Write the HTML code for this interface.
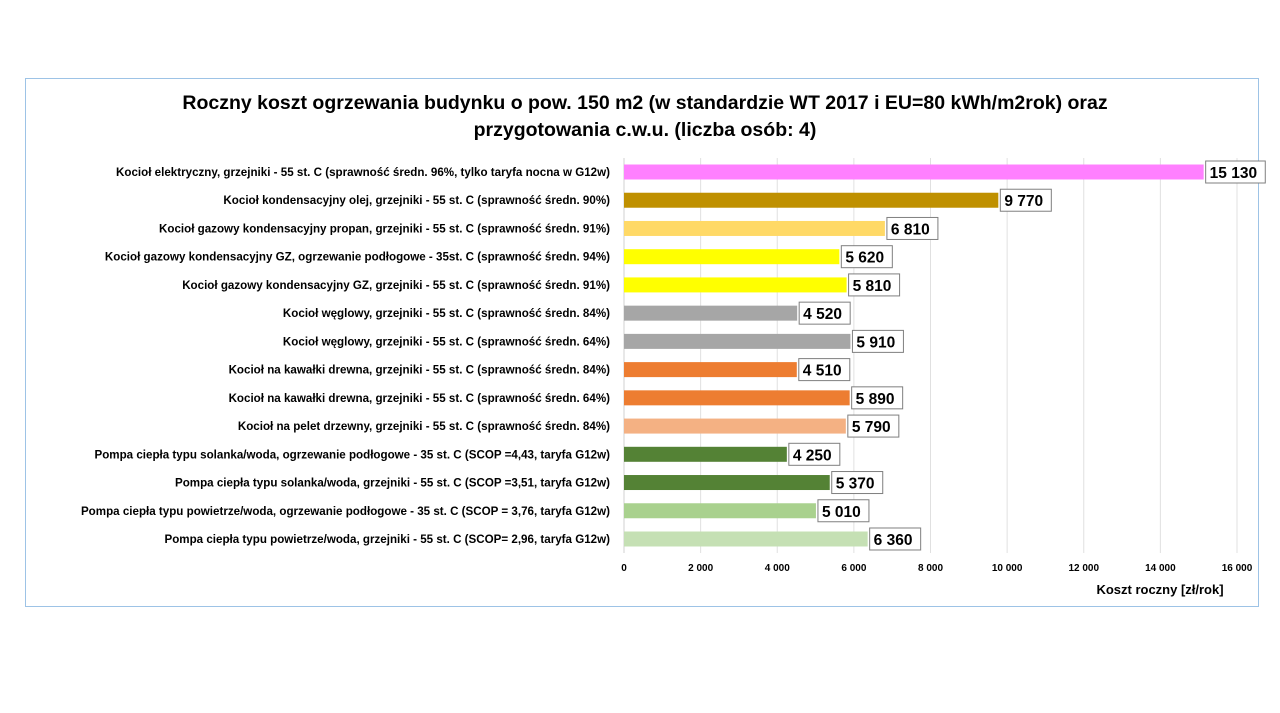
<!DOCTYPE html>
<html><head><meta charset="utf-8"><style>
body{margin:0;background:#fff;font-family:"Liberation Sans",sans-serif;}
svg{display:block}
</style></head><body>
<svg id="chart" width="1280" height="713" xmlns="http://www.w3.org/2000/svg">
<rect x="25.5" y="78.5" width="1233" height="528" fill="#fff" stroke="#9dc3e6" stroke-width="1"/>
<text x="645" y="109" text-anchor="middle" font-size="19.5" font-weight="bold" fill="#000">Roczny koszt ogrzewania budynku  o pow. 150 m2 (w standardzie WT 2017 i EU=80 kWh/m2rok) oraz</text>
<text x="645" y="136" text-anchor="middle" font-size="19.5" font-weight="bold" fill="#000">przygotowania c.w.u. (liczba osób: 4)</text>
<g id="grid"></g><g id="bars"></g><g id="xt"></g>
<text x="1160" y="594" text-anchor="middle" font-size="13" font-weight="bold">Koszt roczny [zł/rok]</text>
</svg>
<script>
const categories=["Kocioł  elektryczny,  grzejniki - 55 st. C  (sprawność średn. 96%, tylko taryfa nocna w G12w)","Kocioł  kondensacyjny olej,  grzejniki - 55 st. C  (sprawność średn. 90%)","Kocioł gazowy kondensacyjny propan, grzejniki - 55 st. C  (sprawność średn. 91%)","Kocioł gazowy kondensacyjny GZ, ogrzewanie podłogowe - 35st. C  (sprawność średn. 94%)","Kocioł gazowy kondensacyjny GZ, grzejniki - 55 st. C  (sprawność średn. 91%)","Kocioł węglowy,  grzejniki - 55 st. C  (sprawność średn. 84%)","Kocioł węglowy,  grzejniki - 55 st. C  (sprawność średn. 64%)","Kocioł na kawałki drewna, grzejniki - 55 st. C (sprawność średn. 84%)","Kocioł na kawałki drewna, grzejniki - 55 st. C  (sprawność średn. 64%)","Kocioł na pelet drzewny, grzejniki - 55 st. C (sprawność średn. 84%)","Pompa ciepła typu solanka/woda, ogrzewanie podłogowe - 35 st. C  (SCOP =4,43, taryfa G12w)","Pompa ciepła typu solanka/woda, grzejniki - 55 st. C (SCOP =3,51, taryfa G12w)","Pompa ciepła typu powietrze/woda, ogrzewanie podłogowe - 35 st. C (SCOP = 3,76, taryfa G12w)","Pompa ciepła typu powietrze/woda, grzejniki - 55 st. C (SCOP= 2,96, taryfa G12w)"];
const values=[15130,9770,6810,5620,5810,4520,5910,4510,5890,5790,4250,5370,5010,6360];
const colors=["#ff80ff","#bf9000","#ffd966","#ffff00","#ffff00","#a6a6a6","#a6a6a6","#ed7d31","#ed7d31","#f4b183","#548235","#548235","#a9d18e","#c5e0b4"];
const ticks=[0,2000,4000,6000,8000,10000,12000,14000,16000];
const ns="http://www.w3.org/2000/svg";
const x0=624,x1=1237,maxV=16000,y0=172,dy=28.23,bh=15;
const xs=v=>x0+(x1-x0)*v/maxV, ys=i=>y0+i*dy;
const fmt=v=>String(v).replace(/\B(?=(\d{3})+(?!\d))/g," ");
function mk(t,a,p){const e=document.createElementNS(ns,t);for(const k in a)e.setAttribute(k,a[k]);p.appendChild(e);return e;}
const grid=document.getElementById('grid'),bars=document.getElementById('bars'),xt=document.getElementById('xt');
ticks.forEach(t=>{
 const l=mk('line',{x1:xs(t),x2:xs(t),y1:158,y2:553,stroke:t?"#e0e0e0":"#d0d0d0","stroke-width":1},grid);
 
 
 const tx=mk('text',{x:xs(t),y:571,"text-anchor":"middle","font-size":"10","font-weight":"bold"},xt);
 
 
 tx.textContent=fmt(t);
});
categories.forEach((c,i)=>{
 const y=ys(i);
 const lb=mk('text',{x:610,y:y+4,"text-anchor":"end","font-size":"11.6","font-weight":"bold"},bars);
 
 
 lb.textContent=c;
 const r=mk('rect',{x:x0,y:y-bh/2,width:xs(values[i])-x0,height:bh,fill:colors[i]},bars);
 
 
 const s=fmt(values[i]); const w=s.length*8.6+8; const bx=xs(values[i])+2;
 const box=mk('rect',{x:bx,y:y-11,width:w,height:22,fill:"#fff",stroke:"#7f7f7f","stroke-width":1},bars);
 
 
 const vt=mk('text',{x:bx+4,y:y+6,"font-size":"15.5","font-weight":"bold"},bars);
 
 
 vt.textContent=s;
});
</script>
</body></html>
